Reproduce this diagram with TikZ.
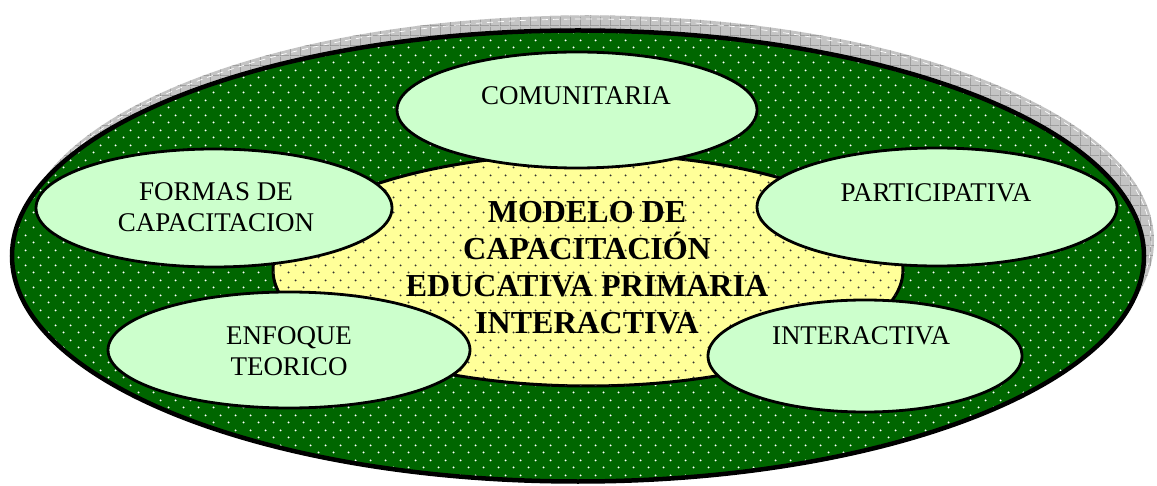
\documentclass[tikz,border=0pt]{standalone}
\usepackage{fontspec}
\setmainfont{Liberation Serif}
\usetikzlibrary{shapes.geometric,patterns.meta}

\definecolor{fieldgreen}{HTML}{006600}
\definecolor{leafgreen}{HTML}{CCFFCC}
\definecolor{coreyellow}{HTML}{FFFF99}
\definecolor{shadegray}{HTML}{C4C4C4}
\definecolor{gridgray}{HTML}{8C8C8C}

% staggered dot texture
\tikzdeclarepattern{
  name=stagdots,
  type=uncolored,
  bounding box={(0pt,0pt) and (15pt,15pt)},
  tile size={(15pt,15pt)},
  code={
    \fill (3.75pt,3.75pt) circle (1.1pt);
    \fill (11.25pt,11.25pt) circle (1.1pt);
  }
}
% square grid texture for the drop shadow
\tikzdeclarepattern{
  name=shadegrid,
  type=uncolored,
  bounding box={(0pt,0pt) and (10pt,10pt)},
  tile size={(10pt,10pt)},
  code={
    \draw[line width=0.6pt] (0.3pt,0pt) -- (0.3pt,10pt);
    \draw[line width=0.6pt] (0pt,0.3pt) -- (10pt,0.3pt);
  }
}

\tikzset{
  leaf/.style={ellipse, draw=black, line width=2.8pt, fill=leafgreen, inner sep=0pt},
  leaftext/.style={font=\fontsize{27}{31}\selectfont, align=center, inner sep=0pt},
  coretext/.style={font=\bfseries\fontsize{32}{37}\selectfont, align=center, inner sep=0pt},
}

\begin{document}
\begin{tikzpicture}[x=1pt,y=-1pt]
\useasboundingbox (0,0) rectangle (1157,486);

% drop shadow behind the outer field
\node[ellipse, minimum width=1132, minimum height=451, inner sep=0pt,
      fill=shadegray, postaction={pattern=shadegrid, pattern color=gridgray}]
      (shadow) at (588,241) {};
\draw[white, line width=0.7pt, dash pattern=on 6pt off 5pt]
      (shadow.center) ellipse [x radius=563, y radius=222];

% outer field
\node[ellipse, minimum width=1132, minimum height=451, inner sep=0pt,
      fill=fieldgreen, postaction={pattern=stagdots, pattern color=white}]
      (outer) at (578,256) {};
\draw[line width=4.5pt] (outer.center) ellipse [x radius=566, y radius=225.5];

% central core
\node[ellipse, minimum width=630, minimum height=232, inner sep=0pt,
      draw=black, line width=3pt, fill=coreyellow,
      postaction={pattern=stagdots, pattern color=black!80}]
      (core) at (588,270) {};

% surrounding ellipses
\node[leaf, minimum width=360, minimum height=116] (com) at (577,110) {};
\node[leaf, minimum width=356, minimum height=118] (formas) at (214,208) {};
\node[leaf, minimum width=360, minimum height=118] (part) at (937,207) {};
\node[leaf, minimum width=362, minimum height=116] (enf) at (289,350) {};
\node[leaf, minimum width=314, minimum height=112] (inter) at (865,356) {};

% labels
\node[coretext] (coreT) at (587,267.5) {MODELO DE\\CAPACITACIÓN\\EDUCATIVA PRIMARIA\\INTERACTIVA};
\node[leaftext] (comT) at (576,96) {COMUNITARIA};
\node[leaftext] (formasT) at (216,207.5) {FORMAS DE\\CAPACITACION};
\node[leaftext] (partT) at (936,193) {PARTICIPATIVA};
\node[leaftext] (enfT) at (289,351.5) {ENFOQUE\\TEORICO};
\node[leaftext] (interT) at (861,336) {INTERACTIVA};
\end{tikzpicture}
\end{document}
